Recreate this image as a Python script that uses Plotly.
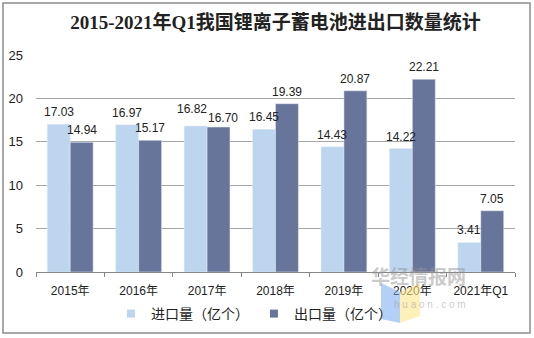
import plotly.graph_objects as go

categories = ["2015年", "2016年", "2017年", "2018年", "2019年", "2020年", "2021年Q1"]
imports = [17.03, 16.97, 16.82, 16.45, 14.43, 14.22, 3.41]
exports = [14.94, 15.17, 16.70, 19.39, 20.87, 22.21, 7.05]
y_ticks = [0, 5, 10, 15, 20, 25]
series_names = ["进口量（亿个）", "出口量（亿个）"]
colors = ["#BDD5EE", "#68759A"]

label_font = dict(family="Liberation Sans, Arial, sans-serif", size=12, color="#222222")

fig = go.Figure()
for vals, name, col in zip([imports, exports], series_names, colors):
    fig.add_trace(go.Bar(x=categories, y=vals, name=name, marker_color=col, showlegend=False))
# legend entries with small square symbols
for name, col in zip(series_names, colors):
    fig.add_trace(go.Scatter(x=[None], y=[None], mode="markers", name=name,
                             marker=dict(symbol="square", size=8, color=col)))

# data labels via annotations (no shrinking); nudge close pairs apart
half = 68.4 * (1 - 0.33) / 4
for si, (vals, sign) in enumerate([(imports, -1), (exports, 1)]):
    for i, (c, v) in enumerate(zip(categories, vals)):
        other = exports[i] if si == 0 else imports[i]
        yshift, xextra = 3, 0
        if abs(other - v) < 0.5:
            yshift = 8 if v > other else 0
            xextra = 4
        fig.add_annotation(x=c, y=v, text=f"{v:.2f}", showarrow=False, xshift=sign * (half + xextra),
                           yanchor="bottom", yshift=yshift, font=label_font)

fig.update_layout(
    width=534, height=338,
    margin=dict(l=36, r=19, t=55, b=66, autoexpand=False),
    paper_bgcolor="white", plot_bgcolor="white",
    barmode="group", bargap=0.33, bargroupgap=0,
    title=dict(text="<b>2015-2021年Q1我国锂离子蓄电池进出口数量统计</b>",
               x=0.5, xref="paper", y=1 - 22 / 338, yanchor="middle",
               font=dict(family="Liberation Serif, Noto Sans CJK SC, serif", size=19, color="#222222")),
    font=dict(family="Liberation Sans, Noto Sans CJK SC, sans-serif", size=12, color="#222222"),
    showlegend=True,
    legend=dict(orientation="h", x=0.455, xanchor="center", yref="container", y=1 - 314 / 338, yanchor="middle",
                font=dict(family="Noto Sans CJK SC, sans-serif", size=14, color="#222222"),
                itemwidth=30, bgcolor="rgba(0,0,0,0)"),
)
fig.update_yaxes(range=[0, 25], tickvals=y_ticks, showgrid=True, gridcolor="#A6A6A6", gridwidth=1,
                 zeroline=False, showline=False, ticks="", ticklabelstandoff=12,
                 tickfont=dict(family="Liberation Sans, Arial, sans-serif", size=13, color="#222222"))
fig.update_xaxes(showline=True, linecolor="#868686", linewidth=1, ticks="outside", tickson="boundaries",
                 ticklen=4, tickcolor="#868686", ticklabelstandoff=8,
                 tickfont=dict(family="Liberation Sans, Noto Sans CJK SC, sans-serif", size=12, color="#222222"))

# outer border
fig.add_shape(type="rect", xref="paper", yref="paper", x0=-33/479, x1=(530-36)/479,
              y0=-(333-272)/217, y1=(272-3)/217, line=dict(color="#8C8C8C", width=1.5),
              fillcolor="rgba(0,0,0,0)", layer="below")

# watermark
fig.add_shape(type="path", xref="paper", yref="paper",
              path=f"M {(381-36)/479} {(272-283)/217} L {(400-36)/479} {(272-292)/217} L {(400-36)/479} {(272-323)/217} L {(381-36)/479} {(272-319)/217} Z",
              fillcolor="rgba(120,170,240,0.55)", line=dict(width=0))
fig.add_shape(type="path", xref="paper", yref="paper",
              path=f"M {(400-36)/479} {(272-292)/217} L {(420-36)/479} {(272-283)/217} L {(420-36)/479} {(272-316)/217} L {(400-36)/479} {(272-323)/217} Z",
              fillcolor="rgba(255,230,140,0.6)", line=dict(width=0))
fig.add_annotation(text="<b>华经情报网</b>", xref="paper", yref="paper", x=(468-36)/479, y=(272-291)/217,
                   showarrow=False, font=dict(family="Noto Sans CJK SC", size=19, color="rgba(150,150,150,0.5)"))
fig.add_annotation(text="h u a o n . c o m", xref="paper", yref="paper", x=(468-36)/479, y=(272-312)/217,
                   showarrow=False, font=dict(family="Liberation Sans", size=10, color="rgba(150,150,150,0.5)"))

fig.write_html("out.html")
